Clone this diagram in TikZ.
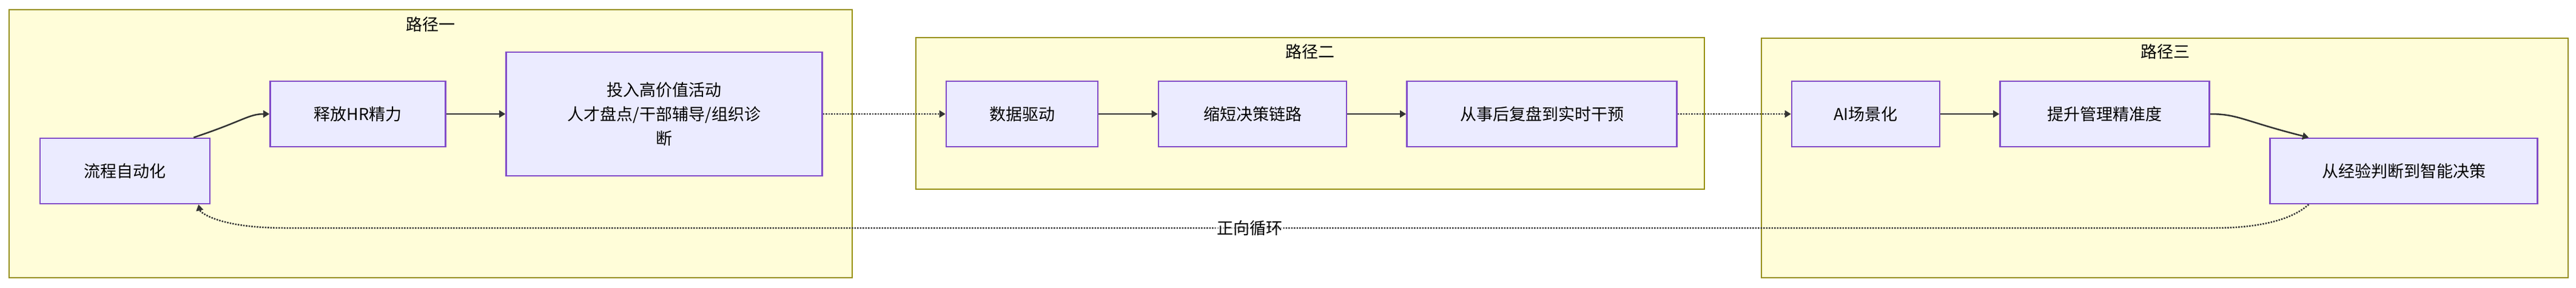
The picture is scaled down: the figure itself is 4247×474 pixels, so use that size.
\documentclass[tikz,border=0pt]{standalone}
\usepackage{fontspec}
\setmainfont{Noto Sans CJK SC}
\usetikzlibrary{arrows.meta, positioning, calc}

\begin{document}
\begin{tikzpicture}[
    x=1pt, y=-1pt,
    >=Triangle,
    font=\fontsize{27}{40}\selectfont,
    grp/.style={draw=olive!80!yellow!90!black, line width=2.5pt, fill=yellow!15},
    stage/.style={draw=violet!60!blue!70!white, line width=2.5pt, fill=blue!8, rectangle, align=center, minimum height=108pt, inner sep=0pt},
    msg/.style={->, line width=2.5pt, draw=black!80},
    loop/.style={->, line width=2.5pt, draw=black!80, dotted}
]
    \useasboundingbox (0,0) rectangle (4247,474);

    % --- Groups ---
    \draw[grp] (15,16) rectangle (1405,458);
    \draw[grp] (1510,62) rectangle (2810,312);
    \draw[grp] (2904,63) rectangle (4234,458);
    \node (title1) at (710,40) {路径一};
    \node (title2) at (2160,85) {路径二};
    \node (title3) at (3570,85) {路径三};

    % --- Path one ---
    \node[stage, minimum width=280pt] (auto) at (206,282) {流程自动化};
    \node[stage, minimum width=289pt] (free) at (590,188) {释放HR精力};
    \node[stage, minimum width=521pt, minimum height=204pt] (invest) at (1095,188) {投入高价值活动\\人才盘点/干部辅导/组织诊\\断};

    % --- Path two ---
    \node[stage, minimum width=250pt] (data) at (1685,188) {数据驱动};
    \node[stage, minimum width=310pt] (chain) at (2065,188) {缩短决策链路};
    \node[stage, minimum width=445pt] (live) at (2542,188) {从事后复盘到实时干预};

    % --- Path three ---
    \node[stage, minimum width=244pt] (ai) at (3076,188) {AI场景化};
    \node[stage, minimum width=345pt] (prec) at (3470,188) {提升管理精准度};
    \node[stage, minimum width=441pt] (smart) at (3963,282) {从经验判断到智能决策};

    % --- Connectors ---
    \draw[msg] ($(auto.north east)+(-28,0)$) .. controls (400,200) and (410,188) .. (free.west);
    \draw[msg] (free) -- (invest);
    \draw[loop] (invest) -- (data);
    \draw[msg] (data) -- (chain);
    \draw[msg] (chain) -- (live);
    \draw[loop] (live) -- (ai);
    \draw[msg] (ai) -- (prec);
    \draw[msg] (prec.east) .. controls (3690,188) and (3700,200) .. ($(smart.north west)+(65,0)$);
    \coordinate (loopR) at (3650,376);
    \coordinate (loopL) at (470,376);
    \draw[loop] ($(smart.south west)+(65,0)$) .. controls (3770,370) and (3700,376) .. (loopR)
        -- node[fill=white, fill opacity=0.6, text opacity=1, inner sep=2pt] (lbl) {正向循环} (loopL)
        .. controls (360,376) and (330,350) .. ($(auto.south east)+(-20,0)$);
\end{tikzpicture}
\end{document}
